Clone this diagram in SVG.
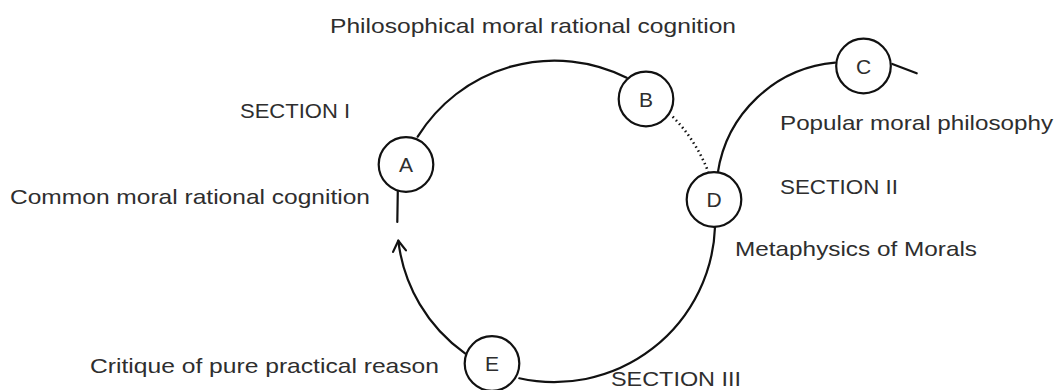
<svg xmlns="http://www.w3.org/2000/svg" width="1056" height="390" viewBox="0 0 1056 390">
  <defs>
    <style>
      .lbl { font-family: "Liberation Sans", Arial, sans-serif; font-size: 21px; fill: #2e2e2e; }
      .node circle { fill: #ffffff; stroke: #111111; stroke-width: 2.2; }
      .node text { font-family: "Liberation Sans", Arial, sans-serif; font-size: 21px; fill: #2e2e2e; text-anchor: middle; }
      .conn { fill: none; stroke: #111111; stroke-width: 2.2; stroke-linecap: round; }
      .dotted { stroke-dasharray: 1.5 3.2; stroke-linecap: butt; stroke-width: 2.6; }
    </style>
    <marker id="openArrow" markerUnits="userSpaceOnUse" markerWidth="16" markerHeight="16" viewBox="-12 -8 14 16" refX="0" refY="0" orient="auto">
      <path d="M -10.5 -6.5 L 0 0 L -10.5 6.5" fill="none" stroke="#111111" stroke-width="2.2" stroke-linecap="round" stroke-linejoin="round"/>
    </marker>
  </defs>
  <rect width="1056" height="390" fill="#ffffff"/>

  <g id="connectors">
    <path class="conn" d="M 417.7 136.7 A 161 161 0 0 1 626.7 77.7"/>
    <path class="conn dotted" d="M 672.7 116.7 A 161 161 0 0 1 708.3 172"/>
    <path class="conn" d="M 715 227 A 161 161 0 0 1 519.3 378.3"/>
    <path class="conn" d="M 465 353.3 A 161 161 0 0 1 398.3 240.7" marker-end="url(#openArrow)"/>
    <path class="conn" d="M 397.8 191 L 397.3 222"/>
    <path class="conn" d="M 717.7 173.3 A 130 130 0 0 1 835 62.7"/>
    <path class="conn" d="M 892.3 64 L 916.7 73.3"/>
  </g>

  <g id="node-A" class="node">
    <circle cx="406" cy="164.5" r="27.3"/>
    <text x="406" y="172">A</text>
  </g>
  <g id="node-B" class="node">
    <circle cx="646" cy="99" r="27.3"/>
    <text x="646" y="106.5">B</text>
  </g>
  <g id="node-C" class="node">
    <circle cx="863.5" cy="66" r="27.3"/>
    <text x="863.5" y="73.5">C</text>
  </g>
  <g id="node-D" class="node">
    <circle cx="714" cy="199.5" r="27.3"/>
    <text x="714" y="207">D</text>
  </g>
  <g id="node-E" class="node">
    <circle cx="492" cy="363.5" r="27.3"/>
    <text x="492" y="371">E</text>
  </g>

  <g id="labels">
    <text class="lbl" x="330" y="33" textLength="406" lengthAdjust="spacingAndGlyphs">Philosophical moral rational cognition</text>
    <text class="lbl" x="240" y="118" textLength="110" lengthAdjust="spacingAndGlyphs">SECTION I</text>
    <text class="lbl" x="10" y="204" textLength="360" lengthAdjust="spacingAndGlyphs">Common moral rational cognition</text>
    <text class="lbl" x="90" y="373" textLength="349" lengthAdjust="spacingAndGlyphs">Critique of pure practical reason</text>
    <text class="lbl" x="780" y="130" textLength="273" lengthAdjust="spacingAndGlyphs">Popular moral philosophy</text>
    <text class="lbl" x="780" y="194" textLength="118" lengthAdjust="spacingAndGlyphs">SECTION II</text>
    <text class="lbl" x="735" y="256" textLength="242" lengthAdjust="spacingAndGlyphs">Metaphysics of Morals</text>
    <text class="lbl" x="611" y="386" textLength="130" lengthAdjust="spacingAndGlyphs">SECTION III</text>
  </g>
</svg>
